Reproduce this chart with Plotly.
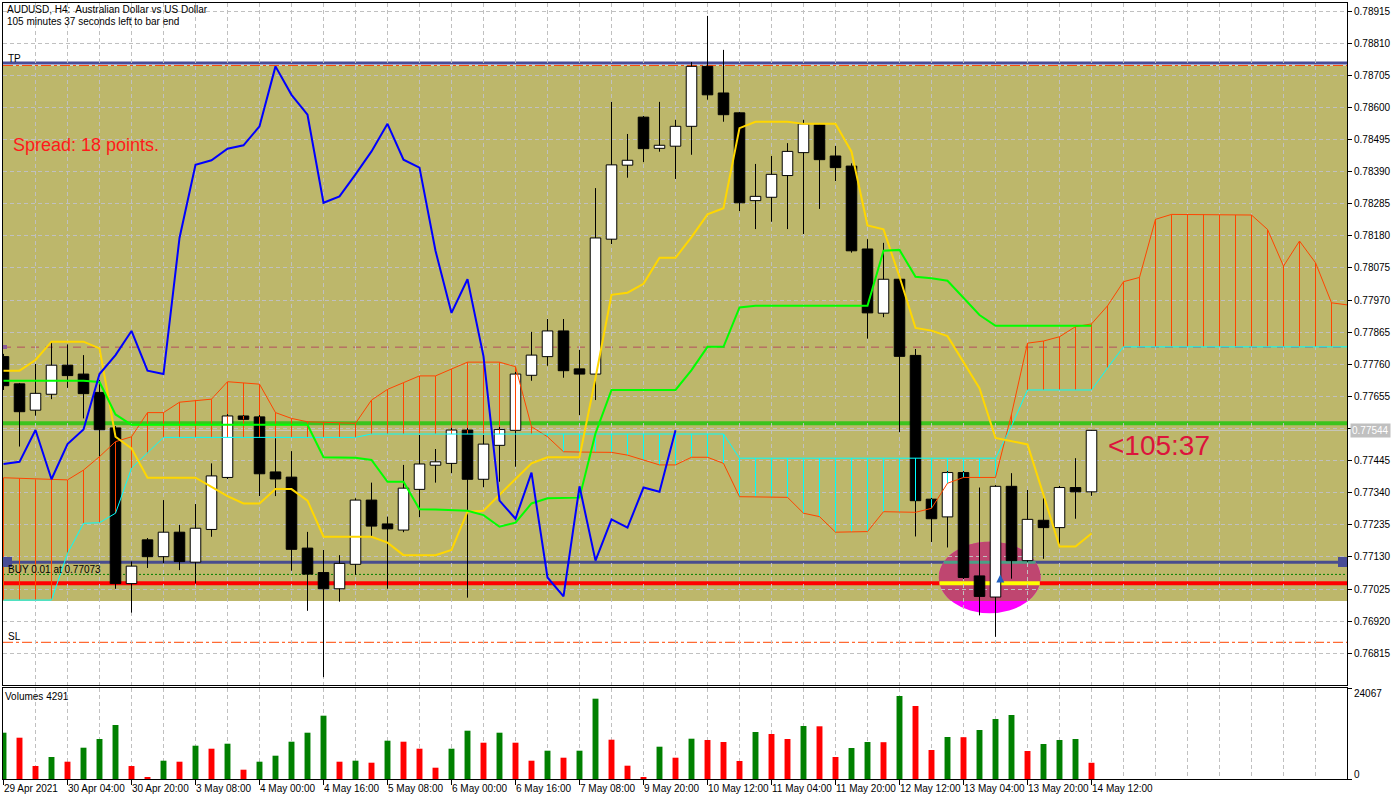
import numpy as np
import plotly.graph_objects as go

# ------------------------------------------------------------------ data
opens = [0.77785,0.77696,0.77610,0.77662,0.77757,0.77728,0.77668,0.77552,0.77043,0.77186,
         0.77131,0.77211,0.77113,0.77220,0.77390,0.77591,0.77588,0.77408,0.77391,0.77159,
         0.77079,0.77026,0.77106,0.77316,0.77238,0.77218,0.77351,0.77430,0.77436,0.77545,
         0.77384,0.77495,0.77544,0.77724,0.77785,0.77869,0.77745,0.77728,0.78169,0.78411,
         0.78568,0.78466,0.78473,0.78538,0.78734,0.78647,0.78582,0.78295,0.78306,0.78377,
         0.78452,0.78543,0.78441,0.78408,0.78137,0.77927,0.78038,0.77789,0.77319,0.77261,
         0.77406,0.77068,0.76999,0.77361,0.77118,0.77250,0.77226,0.77357,0.77343]
highs = [0.77794,0.77699,0.77761,0.77834,0.77825,0.77790,0.77709,0.77558,0.77115,0.77192,
         0.77316,0.77235,0.77303,0.77436,0.77597,0.77594,0.77594,0.77518,0.77476,0.77212,
         0.77153,0.77136,0.77322,0.77373,0.77262,0.77431,0.77529,0.77483,0.77552,0.77552,
         0.77529,0.77555,0.77735,0.77866,0.77908,0.77908,0.77807,0.78336,0.78618,0.78513,
         0.78572,0.78618,0.78559,0.78748,0.78899,0.78788,0.78585,0.78415,0.78441,0.78483,
         0.78559,0.78546,0.78474,0.78417,0.78169,0.78157,0.78042,0.77810,0.77323,0.77411,
         0.77411,0.77357,0.77365,0.77404,0.77349,0.77322,0.77362,0.77453,0.77545]
lows = [0.77676,0.77491,0.77592,0.77646,0.77683,0.77583,0.77458,0.77026,0.76948,0.77094,
        0.77109,0.77087,0.77044,0.77196,0.77385,0.77578,0.77329,0.77329,0.77085,0.76954,
        0.76737,0.76984,0.77071,0.77196,0.77026,0.77211,0.77260,0.77373,0.77404,0.76997,
        0.77358,0.77376,0.77425,0.77706,0.77755,0.77716,0.77594,0.77643,0.78153,0.78370,
        0.78421,0.78455,0.78366,0.78445,0.78625,0.78553,0.78261,0.78202,0.78226,0.78202,
        0.78186,0.78268,0.78359,0.78125,0.77844,0.77914,0.77538,0.77197,0.77179,0.77161,
        0.77058,0.76939,0.76869,0.77059,0.77114,0.77124,0.77170,0.77255,0.77330]
closes = [0.77690,0.77605,0.77665,0.77757,0.77723,0.77664,0.77546,0.77043,0.77100,0.77131,
          0.77211,0.77115,0.77224,0.77395,0.77591,0.77580,0.77402,0.77385,0.77155,0.77074,
          0.77026,0.77109,0.77316,0.77231,0.77222,0.77355,0.77434,0.77441,0.77545,0.77384,
          0.77499,0.77547,0.77728,0.77790,0.77869,0.77739,0.77728,0.78173,0.78412,0.78427,
          0.78465,0.78476,0.78538,0.78734,0.78641,0.78576,0.78288,0.78309,0.78381,0.78456,
          0.78546,0.78429,0.78403,0.78131,0.77928,0.78038,0.77786,0.77314,0.77255,0.77406,
          0.77063,0.77001,0.77361,0.77118,0.77253,0.77226,0.77357,0.77343,0.77544]
volumes = [12246,10924,3439,5819,4576,8279,10580,14283,3430,344,
           4840,4576,8808,8014,9337,2460,4576,6163,9866,12246,
           16743,4576,4840,4311,10130,9866,8014,2989,8014,12775,
           9601,12246,9601,4840,7485,5634,7485,21239,10395,3518,
           344,8543,5634,10659,10316,9787,4761,12432,11903,10580,
           14019,13939,5819,8200,9787,9734,21954,19309,7671,11109,
           11056,12961,15870,16928,7406,9258,10316,10580,4291]

tenkan = [0.77739,0.77739,0.77774,0.77834,0.77834,0.77834,0.77812,0.77523,0.77485,0.77389,
          0.77389,0.77389,0.77389,0.77359,0.77329,0.77305,0.77305,0.77352,0.77352,0.77314,
          0.77196,0.77196,0.77196,0.77196,0.77177,0.77136,0.77136,0.77136,0.77153,0.77278,
          0.77281,0.77334,0.77385,0.77436,0.77456,0.77456,0.77456,0.77715,0.77987,0.77994,
          0.78023,0.78108,0.78108,0.78176,0.78250,0.78270,0.78532,0.78553,0.78553,0.78553,
          0.78546,0.78546,0.78546,0.78455,0.78214,0.78201,0.78046,0.77879,0.77870,0.77852,
          0.77767,0.77682,0.77519,0.77509,0.77498,0.77333,0.77164,0.77164,0.77207]
kijun = [0.77706,0.77706,0.77706,0.77706,0.77706,0.77706,0.77702,0.77596,0.77562,0.77562,
         0.77562,0.77562,0.77562,0.77562,0.77562,0.77562,0.77562,0.77562,0.77562,0.77562,
         0.77456,0.77455,0.77454,0.77447,0.77376,0.77376,0.77286,0.77285,0.77284,0.77281,
         0.77267,0.77229,0.77242,0.77305,0.77322,0.77323,0.77324,0.77534,0.77676,0.77676,
         0.77676,0.77676,0.77676,0.77741,0.77817,0.77817,0.77946,0.77951,0.77951,0.77951,
         0.77951,0.77951,0.77951,0.77951,0.77951,0.78131,0.78134,0.78046,0.78041,0.78033,
         0.77977,0.77921,0.77886,0.77886,0.77886,0.77886,0.77886,0.77886,0.77886]
chikou = [0.77434,0.77441,0.77545,0.77384,0.77499,0.77547,0.77728,0.77790,0.77869,0.77739,
          0.77728,0.78173,0.78412,0.78427,0.78465,0.78476,0.78538,0.78734,0.78641,0.78576,
          0.78288,0.78309,0.78381,0.78456,0.78546,0.78429,0.78403,0.78131,0.77928,0.78038,
          0.77786,0.77314,0.77255,0.77406,0.77063,0.77001,0.77361,0.77118,0.77253,0.77226,
          0.77357,0.77343,0.77544]
span_a = [0.77389,0.77387,0.77384,0.77382,0.77382,0.77414,0.77458,0.77507,0.77523,0.77602,
          0.77602,0.77636,0.77642,0.77646,0.77703,0.77699,0.77695,0.77602,0.77583,0.77572,
          0.77570,0.77568,0.77567,0.77643,0.77678,0.77700,0.77722,0.77722,0.77745,0.77767,
          0.77767,0.77767,0.77752,0.77556,0.77523,0.77474,0.77473,0.77473,0.77472,0.77463,
          0.77447,0.77431,0.77431,0.77456,0.77456,0.77436,0.77327,0.77326,0.77326,0.77325,
          0.77273,0.77262,0.77211,0.77212,0.77213,0.77278,0.77277,0.77276,0.77289,0.77371,
          0.77390,0.77390,0.77390,0.77597,0.77829,0.77836,0.77850,0.77883,0.77892,0.77951,
          0.78030,0.78044,0.78234,0.78250,0.78250,0.78250,0.78248,0.78248,0.78248,0.78201,
          0.78081,0.78163,0.78092,0.77961,0.77954]
span_b = [0.76989,0.76989,0.76989,0.76989,0.77142,0.77240,0.77242,0.77273,0.77420,0.77469,
          0.77521,0.77521,0.77521,0.77521,0.77521,0.77521,0.77521,0.77521,0.77521,0.77521,
          0.77521,0.77521,0.77521,0.77532,0.77532,0.77532,0.77532,0.77532,0.77532,0.77532,
          0.77532,0.77532,0.77532,0.77532,0.77532,0.77532,0.77532,0.77532,0.77532,0.77532,
          0.77532,0.77532,0.77532,0.77532,0.77532,0.77532,0.77453,0.77453,0.77453,0.77453,
          0.77453,0.77453,0.77453,0.77453,0.77453,0.77453,0.77453,0.77453,0.77453,0.77453,
          0.77453,0.77453,0.77453,0.77558,0.77676,0.77676,0.77676,0.77676,0.77676,0.77748,
          0.77817,0.77817,0.77817,0.77817,0.77817,0.77817,0.77817,0.77817,0.77817,0.77817,
          0.77817,0.77817,0.77817,0.77817,0.77817]

time_tick_bars = [0, 4, 8, 12, 16, 20, 24, 28, 32, 36, 40, 44, 48, 52, 56, 60, 64, 68]
time_tick_labels = ["29 Apr 2021", "30 Apr 04:00", "30 Apr 20:00", "3 May 08:00", "4 May 00:00",
                    "4 May 16:00", "5 May 08:00", "6 May 00:00", "6 May 16:00", "7 May 08:00",
                    "9 May 20:00", "10 May 12:00", "11 May 04:00", "11 May 20:00", "12 May 12:00",
                    "13 May 04:00", "13 May 20:00", "14 May 12:00"]
price_ticks = [0.76815, 0.76920, 0.77025, 0.77130, 0.77235, 0.77340, 0.77445,
               0.77550, 0.77655, 0.77760, 0.77865, 0.77970, 0.78075, 0.78180,
               0.78285, 0.78390, 0.78495, 0.78600, 0.78705, 0.78810, 0.78915]
price_tick_labels = ["0.76815", "0.76920", "0.77025", "0.77130", "0.77235", "0.77340", "0.77445",
                     "", "0.77655", "0.77760", "0.77865", "0.77970", "0.78075", "0.78180",
                     "0.78285", "0.78390", "0.78495", "0.78600", "0.78705", "0.78810", "0.78915"]
vol_axis_max = 24067

# chart objects (price levels)
tp_level = 0.78745
tp_stop = 0.78737
zone_low = 0.76986
brown_level = 0.77816
green_level = 0.77567
bid_price = 0.77544
navy_level = 0.77113
entry_price = 0.77073
red_level = 0.77044
sl_level = 0.76851
ellipse_bars = [58.46, 64.81]
ellipse_prices = [0.76946, 0.77180]
trade_bar = 62.3

# ------------------------------------------------------------------ geometry
W, H = 1400, 800
L, R, T, B = 3, 53, 3, 21
PW, PH = W - L - R, H - T - B
def pxx(px):
    return (px - L) / PW
def pxy(py):
    return (H - B - py) / PH

main_dom = [pxy(685), 1.0]
vol_dom = [0.0, pxy(688)]
xr = [-1 / 32, 84 - 1 / 32]
yr = [0.767114, 0.789412]
ONE_PX = 84 / PW  # one pixel in bar units

GRID = "#c0c0c0"
GDASH = "4px,3px"
FONT = "Liberation Sans"

n = len(opens)
idx = list(range(n))
body_lo = [min(o, c) for o, c in zip(opens, closes)]
body_hi = [max(o, c) for o, c in zip(opens, closes)]
body_h = [h - l for h, l in zip(body_hi, body_lo)]
body_col = ["white" if c >= o else "black" for o, c in zip(opens, closes)]

fig = go.Figure()

# candle bodies
fig.add_trace(go.Bar(x=idx, y=body_h, base=body_lo, width=0.66,
                     marker=dict(color=body_col, line=dict(color="black", width=1)),
                     xaxis="x", yaxis="y", hoverinfo="skip", showlegend=False))
# cloud hatch (1px vertical strokes between the two spans)
hb = [min(a, b) for a, b in zip(span_a, span_b)]
hh = [abs(a - b) for a, b in zip(span_a, span_b)]
hc = ["#ff4500" if a >= b else "#00ffff" for a, b in zip(span_a, span_b)]
fig.add_trace(go.Bar(x=list(range(len(span_a))), y=hh, base=hb, width=ONE_PX,
                     marker=dict(color=hc, line=dict(width=0)),
                     xaxis="x", yaxis="y", hoverinfo="skip", showlegend=False))
# volumes
vcol = ["#008000"] + ["#008000" if volumes[i] > volumes[i - 1] else "#ff0000" for i in range(1, n)]
fig.add_trace(go.Bar(x=idx, y=volumes, width=0.37, marker=dict(color=vcol, line=dict(width=0)),
                     xaxis="x2", yaxis="y2", hoverinfo="skip", showlegend=False))

# wicks
wx, wy = [], []
for i in idx:
    wx += [i, i, None, i, i, None]
    wy += [highs[i], body_hi[i], None, body_lo[i], lows[i], None]
fig.add_trace(go.Scatter(x=wx, y=wy, mode="lines", line=dict(color="black", width=1),
                         hoverinfo="skip", showlegend=False))

fig.add_trace(go.Scatter(x=list(range(len(span_a))), y=span_a, mode="lines",
                         line=dict(color="#ff4500", width=1), hoverinfo="skip", showlegend=False))
fig.add_trace(go.Scatter(x=list(range(len(span_b))), y=span_b, mode="lines",
                         line=dict(color="#00ffff", width=1), hoverinfo="skip", showlegend=False))

# tenkan / kijun / chikou
fig.add_trace(go.Scatter(x=idx, y=tenkan, mode="lines", line=dict(color="#ffd700", width=2),
                         hoverinfo="skip", showlegend=False))
fig.add_trace(go.Scatter(x=idx, y=kijun, mode="lines", line=dict(color="#00ff00", width=2),
                         hoverinfo="skip", showlegend=False))
fig.add_trace(go.Scatter(x=list(range(len(chikou))), y=chikou, mode="lines",
                         line=dict(color="#0000ff", width=2), hoverinfo="skip", showlegend=False))
# trade arrow
fig.add_trace(go.Scatter(x=[trade_bar], y=[entry_price], mode="markers",
                         marker=dict(symbol="arrow-up", size=8, color="#1f5fbf"),
                         hoverinfo="skip", showlegend=False))

# ------------------------------------------------------------------ shapes
shapes = []
def hline(y, color, width, dash="solid"):
    shapes.append(dict(type="line", xref="paper", x0=0, x1=1, yref="y", y0=y, y1=y,
                       line=dict(color=color, width=width, dash=dash), layer="below"))

shapes.append(dict(type="rect", xref="paper", x0=0, x1=1, yref="y", y0=zone_low, y1=tp_stop,
                   fillcolor="#bdb76b", line=dict(width=0), layer="below"))
hline(tp_level, "#484c96", 3)
hline(tp_stop, "#ff4500", 1, "10px,3px,3px,3px")
hline(brown_level, "#b4505f", 1, "8px,6px")
hline(green_level, "#3cc31e", 4)
hline(bid_price, "#c8c8c8", 1)
hline(navy_level, "#484c8e", 3)
hline(red_level, "#ff0000", 4)
hline(sl_level, "#ff4500", 1, "10px,3px,3px,3px")

# ellipse (two tone: over zone / over white)
ex0, ex1 = ellipse_bars
ey0, ey1 = ellipse_prices
shapes.append(dict(type="circle", xref="x", yref="y", x0=ex0, x1=ex1, y0=ey0, y1=ey1,
                   fillcolor="#ff00ff", line=dict(width=0), layer="below"))
ecx, ecy = (ex0 + ex1) / 2, (ey0 + ey1) / 2
ea, eb = (ex1 - ex0) / 2, (ey1 - ey0) / 2
t = np.linspace(0, 2 * np.pi, 200)
px_ = ecx + ea * np.cos(t)
py_ = np.maximum(ecy + eb * np.sin(t), zone_low)
path = "M " + " L ".join(f"{a:.4f},{b:.6f}" for a, b in zip(px_, py_)) + " Z"
shapes.append(dict(type="path", xref="x", yref="y", path=path, fillcolor="#bf4670",
                   line=dict(width=0), layer="below"))
def ell_half(y):
    return ea * np.sqrt(max(0.0, 1 - ((y - ecy) / eb) ** 2))
for lvl, col, wd in [(red_level, "#ffff00", 4), (navy_level, "#4aa086", 3)]:
    hw = ell_half(lvl)
    shapes.append(dict(type="line", xref="x", yref="y", x0=ecx - hw, x1=ecx + hw, y0=lvl, y1=lvl,
                       line=dict(color=col, width=wd), layer="below"))
hline(entry_price, "#008000", 1, "2px,2px")

# small handles
for (xa, xb, ya, yb, col) in [(3, 12, 557, 567, "#484c96"), (1338, 1347, 557, 567, "#484c96"),
                              (3, 7, 345, 349, "#8a5a9a")]:
    shapes.append(dict(type="rect", xref="paper", yref="paper", x0=pxx(xa), x1=pxx(xb),
                       y0=pxy(yb), y1=pxy(ya), fillcolor=col, line=dict(width=0)))

# ------------------------------------------------------------------ annotations
ann = []
def text(s, px, py, size=10, color="black", family=FONT, xanchor="left", **kw):
    ann.append(dict(text=s, xref="paper", yref="paper", x=pxx(px), y=pxy(py), xanchor=xanchor,
                    yanchor="middle", showarrow=False, font=dict(size=size, color=color, family=family),
                    borderpad=0, **kw))

text("AUDUSD, H4:\u00a0 Australian Dollar vs US Dollar", 6, 10)
text("105 minutes 37 seconds left to bar end", 6, 21)
text("TP", 7, 59)
text("SL", 7, 636)
text("BUY 0.01 at 0.77073", 7, 569)
text("Spread: 18 points.", 12, 145, size=18, color="#ff1a1a")
text("<105:37", 1107, 445, size=28, color="#dc143c")
text("Volumes 4291", 4, 696)
text("24067", 1353, 693)
text("0", 1353, 774)
ann.append(dict(text="0.77544", xref="paper", yref="y", x=1, y=bid_price, xanchor="left", yanchor="middle",
                xshift=3, showarrow=False, bgcolor="#c0c0c0", borderpad=1,
                font=dict(size=10, color="white", family=FONT)))
for b, s in zip(time_tick_bars, time_tick_labels):
    ann.append(dict(text=s, xref="x2", yref="paper", x=b, y=pxy(788), xanchor="left", yanchor="middle",
                    xshift=-1, showarrow=False, borderpad=0, font=dict(size=10, color="black", family=FONT)))

# ------------------------------------------------------------------ axes
frame = dict(showline=True, linecolor="black", linewidth=1, mirror=True, zeroline=False)
grid_all = list(range(0, 85, 2))
minor_vals = [g for g in grid_all if g not in time_tick_bars]

fig.update_layout(
    width=W, height=H, margin=dict(l=L, r=R, t=T, b=B), paper_bgcolor="white", plot_bgcolor="white",
    font=dict(family=FONT, size=10, color="black"), barmode="overlay", hovermode=False, showlegend=False,
    xaxis=dict(domain=[0, 1], anchor="y", range=xr, tickmode="array", tickvals=grid_all,
               showticklabels=False, ticks="", showgrid=True, gridcolor=GRID, griddash=GDASH, gridwidth=1, **frame),
    yaxis=dict(domain=main_dom, anchor="x", range=yr, side="right", tickmode="array",
               tickvals=price_ticks, ticktext=price_tick_labels, ticks="outside", ticklen=4, tickcolor="black",
               tickfont=dict(size=10, family=FONT, color="black"),
               showgrid=True, gridcolor=GRID, griddash=GDASH, gridwidth=1, **frame),
    xaxis2=dict(domain=[0, 1], anchor="y2", range=xr, tickmode="array", tickvals=time_tick_bars,
                showticklabels=False, ticks="outside", ticklen=5, tickcolor="black",
                showgrid=True, gridcolor=GRID, griddash=GDASH, gridwidth=1,
                minor=dict(tickmode="array", tickvals=minor_vals, showgrid=True, gridcolor=GRID,
                           griddash=GDASH, gridwidth=1, ticks=""), **frame),
    yaxis2=dict(domain=vol_dom, anchor="x2", range=[0, vol_axis_max], side="right", tickmode="array",
                tickvals=[0, vol_axis_max], showticklabels=False, ticks="outside", ticklen=4,
                tickcolor="black", showgrid=False, **frame),
    shapes=shapes, annotations=ann,
)

fig.write_html("out.html", config={"displayModeBar": False},
               post_script="document.body.style.margin='0px';document.body.style.padding='0px';")
